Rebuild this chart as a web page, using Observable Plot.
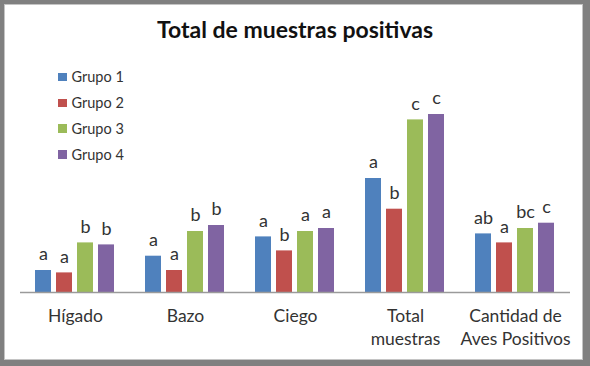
<!DOCTYPE html>
<html>
<head>
<meta charset="utf-8">
<script src="https://cdn.jsdelivr.net/npm/d3@7"></script>
<script src="https://cdn.jsdelivr.net/npm/@observablehq/plot@0.6"></script>
<style>
  html, body { margin: 0; padding: 0; background: #fff; }
  #frame { position: relative; width: 590px; height: 366px; background: #808080; overflow: hidden; font-family: Lato, "Open Sans", sans-serif; }
  #inner { position: absolute; left: 4px; top: 4px; width: 577px; height: 354px; background: #fff; border: 1px solid #c4c4c4; }
  #title { position: absolute; left: 0; top: 14px; width: 590px; text-align: center; font-size: 23px; font-weight: bold; color: #111; line-height: 30px; }
  #chart { position: absolute; left: 0; top: 0; }
  #legend { position: absolute; left: 58px; top: 64px; font-size: 14.5px; color: #333; }
  #legend .row { height: 25.9px; display: flex; align-items: center; }
  #legend .sw { width: 8.5px; height: 8.5px; margin-right: 5px; }
</style>
</head>
<body>
<div id="frame">
  <div id="inner"></div>
  <div id="chart"></div>
  <div id="title">Total de muestras positivas</div>
  <div id="legend"></div>
</div>
<script>
const categories = ["Hígado", "Bazo", "Ciego", "Total\nmuestras", "Cantidad de\nAves Positivos"];
const groups = ["Grupo 1", "Grupo 2", "Grupo 3", "Grupo 4"];
const colors = ["#4F81BD", "#C0504D", "#9BBB59", "#8064A2"];

const grupo1 = [22.0, 36.3, 55.6, 114.0, 58.6];
const grupo2 = [19.6, 22.0, 41.6, 83.3, 49.6];
const grupo3 = [49.6, 61.0, 61.0, 172.6, 64.0];
const grupo4 = [47.6, 67.0, 64.0, 178.0, 69.3];

const letras1 = ["a", "a", "a", "a", "ab"];
const letras2 = ["a", "a", "b", "b", "a"];
const letras3 = ["b", "b", "a", "c", "bc"];
const letras4 = ["b", "b", "a", "c", "c"];

const series = [grupo1, grupo2, grupo3, grupo4];
const letras = [letras1, letras2, letras3, letras4];

const data = [];
categories.forEach((cat, i) => {
  groups.forEach((g, j) => {
    data.push({cat, group: g, value: series[j][i], letra: letras[j][i]});
  });
});

const plot = Plot.plot({
  width: 590,
  height: 366,
  marginLeft: 19,
  marginRight: 20,
  marginTop: 60,
  marginBottom: 74,
  style: {background: "transparent", fontFamily: "Lato, 'Open Sans', sans-serif", color: "#333"},
  fx: {domain: categories, padding: 0},
  x: {domain: groups, paddingInner: 0.22, paddingOuter: 0.635, axis: null},
  y: {domain: [0, 232], axis: null},
  color: {domain: groups, range: colors},
  marks: [
    Plot.barY(data, {fx: "cat", x: "group", y: "value", fill: "group"}),
    Plot.ruleY([0], {stroke: "#9a9a9a", strokeWidth: 1.5}),
    Plot.text(data, {fx: "cat", x: "group", y: "value", text: "letra", dy: -16, fontSize: 18, fill: "#333"}),
    Plot.axisFx({anchor: "bottom", tickSize: 0, tickPadding: 12, fontSize: 17.5, lineHeight: 1.37, label: null, fill: "#333"})
  ]
});
document.getElementById("chart").appendChild(plot);

const legend = document.getElementById("legend");
groups.forEach((g, j) => {
  const row = document.createElement("div");
  row.className = "row";
  const sw = document.createElement("div");
  sw.className = "sw";
  sw.style.background = colors[j];
  const t = document.createElement("span");
  t.textContent = g;
  row.appendChild(sw);
  row.appendChild(t);
  legend.appendChild(row);
});
</script>
</body>
</html>
